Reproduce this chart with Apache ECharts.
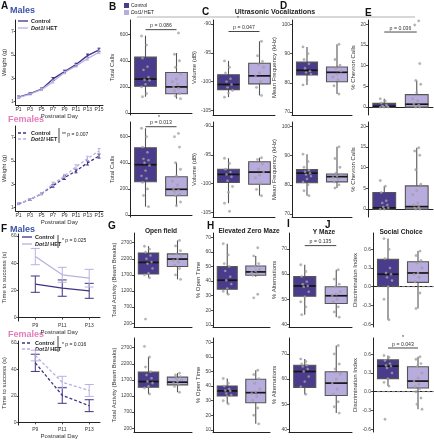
<!DOCTYPE html>
<html><head><meta charset="utf-8">
<script src="https://cdn.jsdelivr.net/npm/echarts@6/dist/echarts.min.js"></script>
<style>html,body{margin:0;padding:0;background:#fff}#c{width:434px;height:440px}</style>
</head><body><div id="c"></div>
<script>
// ---------------- DATA ----------------
const groups = ['Control', 'Dot1l HET'];

const weightDays = [1, 3, 5, 7, 9, 11, 13, 15];
const weightTicks = [1, 3, 5, 7];
const maleWeightControl = [1.37, 1.68, 2.06, 2.94, 3.57, 4.17, 4.94, 5.43];
const maleWeightControlSem = [0.10, 0.08, 0.10, 0.12, 0.12, 0.12, 0.14, 0.15];
const maleWeightHet = [1.33, 1.64, 2.02, 2.71, 3.49, 4.06, 4.68, 5.23];
const maleWeightHetSem = [0.08, 0.08, 0.08, 0.12, 0.10, 0.10, 0.12, 0.12];
const femaleWeightControl = [1.31, 1.68, 2.18, 2.86, 3.56, 4.13, 4.83, 5.42];
const femaleWeightControlSem = [0.06, 0.08, 0.08, 0.12, 0.15, 0.15, 0.18, 0.18];
const femaleWeightHet = [1.33, 1.70, 2.20, 3.03, 3.70, 4.49, 5.20, 5.85];
const femaleWeightHetSem = [0.06, 0.08, 0.08, 0.15, 0.15, 0.18, 0.20, 0.22];

const trainDays = [9, 11, 13];
const timeTicks = [0, 20, 40, 60];
const maleTimeControl = [24.6, 21.7, 19.7];
const maleTimeControlSem = [6, 6, 5.5];
const maleTimeHet = [44.9, 31.5, 29.0];
const maleTimeHetSem = [6, 5.5, 6.5];
const femaleTimeControl = [45.0, 20.4, 12.6];
const femaleTimeControlSem = [6.5, 6, 4.5];
const femaleTimeHet = [50.5, 30.3, 24.1];
const femaleTimeHetSem = [4, 4.5, 4.5];

// box summaries: [min, Q1, median, Q3, max]
const callsMaleBox = [[125, 205, 260, 428, 592], [110, 148, 200, 310, 459]];
const callsMalePts = [[590, 520, 420, 355, 330, 275, 255, 250, 220, 200, 150, 125], [613, 450, 400, 350, 300, 260, 240, 220, 200, 190, 170, 150, 130, 110]];
const callsFemaleBox = [[64, 255, 385, 515, 664], [71, 148, 197, 293, 400]];
const callsFemalePts = [[664, 600, 520, 480, 430, 420, 400, 380, 340, 300, 280, 250, 200, 150, 64], [625, 600, 520, 400, 350, 300, 260, 230, 200, 190, 180, 160, 150, 100, 71]];
const volumeMaleBox = [[-102.7, -101.4, -100.5, -98.8, -96.4], [-102.4, -100.4, -99.0, -96.8, -93.0]];
const volumeMalePts = [[-96.4, -97.5, -98.5, -99.5, -100, -100.5, -101, -101.5, -102, -102.7], [-93, -95.5, -96.5, -97, -97.5, -98.5, -99, -100, -101, -102.4]];
const volumeFemaleBox = [[-103.4, -99.8, -98.4, -97.5, -95.6], [-102.1, -100.1, -98.0, -96.2, -95.5]];
const volumeFemalePts = [[-95.6, -96.5, -97.5, -98, -98.4, -98.8, -99.5, -100.5, -101.5, -103.4, -104.8], [-95.5, -95.8, -96.5, -97.5, -98, -98.5, -99, -100, -101, -102.1]];
const freqMaleBox = [[79.3, 82.7, 84.3, 87.1, 92.3], [76.2, 80.4, 83.6, 85.4, 93.2]];
const freqMalePts = [[92.3, 90, 88, 86.5, 85, 84, 83.5, 83, 81, 79.3], [93.2, 88, 86, 85, 84, 83, 82, 81, 79, 76.2]];
const freqFemaleBox = [[76.3, 80.7, 84.0, 85.2, 90.5], [78.9, 81.0, 82.8, 83.7, 93.0]];
const freqFemalePts = [[90.5, 88, 86, 85, 84.5, 84, 83.5, 83, 82, 81, 80, 78, 76.3], [93, 89, 86, 84, 83.5, 83, 82.5, 82, 81, 80, 78.9]];
const chevronMaleBox = [[0, 0, 0.2, 0.9, 2.0], [0, 0, 0.7, 3.0, 6.4]];
const chevronMalePts = [[2.0, 1.5, 1.0, 0.5, 0.3, 0.2, 0.1, 0, 0, 0], [20.8, 19.8, 10.5, 6.4, 5.5, 3.5, 2.0, 1.5, 0.8, 0.5, 0.3, 0, 0]];
const chevronFemaleBox = [[0, 0, 0.3, 4.0, 5.5], [0, 0, 0.6, 5.6, 14.8]];
const chevronFemalePts = [[6.9, 5.5, 4.0, 2.0, 1.5, 1.0, 0.5, 0.3, 0, 0], [14.8, 14, 13, 9.5, 6, 4.5, 3.5, 1.5, 1, 0.5, 0.3, 0, 0]];

const activityMaleBox = [[1612, 1727, 2086, 2380, 2590], [1560, 1960, 2190, 2350, 2770]];
const activityMalePts = [[2590, 2500, 2400, 2300, 2200, 2100, 2050, 1900, 1750, 1700, 1612, 326], [2770, 2600, 2450, 2350, 2300, 2200, 2150, 2100, 2000, 1900, 1700, 1560]];
const activityFemaleBox = [[1262, 1470, 1647, 1940, 2410], [1315, 1545, 1628, 1785, 1910]];
const activityFemalePts = [[2740, 2410, 2100, 1950, 1850, 1750, 1650, 1600, 1500, 1450, 1262], [1910, 1850, 1800, 1750, 1700, 1650, 1600, 1550, 1500, 1315]];
const openMaleBox = [[31.0, 34.4, 40.6, 49.9, 65.7], [43.0, 44.0, 46.3, 50.4, 57.3]];
const openMalePts = [[65.7, 58, 52, 50, 47, 43, 40.6, 38, 35, 33, 31], [62.9, 57.3, 52, 50, 48, 47, 46, 45, 44, 31, 28.5]];
const openFemaleBox = [[27.9, 33.2, 36.7, 40.1, 45.2], [14.1, 28.6, 35.5, 44.7, 50.9]];
const openFemalePts = [[45.2, 42, 40, 38, 37, 36.7, 35, 34, 33, 30, 27.9], [50.9, 48, 45, 42, 38, 36, 35, 33, 30, 25, 20, 14.1]];
const altMaleBox = [[43.9, 51.2, 55.3, 59.0, 63.7], [42.9, 48.3, 51.4, 55.0, 61.7]];
const altMalePts = [[63.7, 61, 59, 57, 56, 55.3, 55, 53, 51, 49, 47, 43.9], [61.7, 58, 56, 55, 53, 52, 51.4, 50, 49, 47, 45, 42.9]];
const altFemaleBox = [[54.0, 56.7, 63.0, 65.5, 68.0], [46.5, 53.5, 58.4, 62.9, 73.3]];
const altFemalePts = [[68, 67, 66, 65.5, 65, 64, 63, 61, 59, 57, 54], [73.3, 70, 66, 64, 62, 60, 58.4, 56, 54, 51, 49, 46.5]];
const discMaleBox = [[-0.53, 0.01, 0.20, 0.44, 0.77], [-0.35, 0.07, 0.22, 0.40, 0.57]];
const discMalePts = [[0.77, 0.6, 0.45, 0.3, 0.22, 0.2, 0.15, 0.1, 0.0, -0.2, -0.53], [0.57, 0.5, 0.42, 0.38, 0.3, 0.22, 0.2, 0.15, 0.08, -0.1, -0.35]];
const discFemaleBox = [[0.09, 0.21, 0.41, 0.51, 0.58], [-0.28, 0.06, 0.17, 0.40, 0.56]];
const discFemalePts = [[0.58, 0.55, 0.5, 0.45, 0.42, 0.41, 0.38, 0.3, 0.21, 0.15, 0.09, -0.44], [0.56, 0.52, 0.45, 0.4, 0.3, 0.22, 0.17, 0.12, 0.08, 0.05, 0.0, -0.1, -0.2, -0.28]];

const callsTicks = [0, 200, 400, 600];
const volumeTicks = [-105, -100, -95, -90];
const freqTicks = [70, 80, 90, 100];
const chevronTicks = [0, 5, 10, 15, 20];
const activityTicks = [200, 700, 1200, 1700, 2200, 2700];
const openTicks = [10, 20, 30, 40, 50, 60, 70];
const altTicks = [40, 50, 60, 70];
const discTicks = [-0.6, -0.3, 0, 0.3, 0.6];

// ---------------- STYLE ----------------
const FONT = 'Liberation Sans, Arial, Helvetica, sans-serif';
const C_CTRL = '#4b3b8c', C_HET = '#b8acdf';
const L_CTRL = '#3f3287', L_HET = '#b9b1e2';
const AX = '#222';

const option = {animation: false, textStyle: {fontFamily: FONT}, grid: [], xAxis: [], yAxis: [], series: [], graphic: []};

function addGrid(l, t, w, h) {
  option.grid.push({left: l, top: t, width: w, height: h});
  return option.grid.length - 1;
}

const plain = v => String(v);

function yAxisCfg(gi, min, max, ticks, name, gap, fmt) {
  return {gridIndex: gi, type: 'value', min: min, max: max, splitLine: {show: false},
    axisLine: {show: true, lineStyle: {color: AX, width: 1}},
    axisTick: {show: true, length: 2, customValues: ticks, lineStyle: {color: AX, width: 0.8}},
    axisLabel: {customValues: ticks, fontSize: 5, color: '#444', margin: 2, formatter: fmt || plain},
    name: name, nameLocation: 'middle', nameGap: gap, nameTextStyle: {fontSize: 6, color: '#333'}};
}

function jit(i) { return ((i * 5) % 9) - 4; }

function boxPanel(p) {
  const gi = addGrid(p.l, p.t, p.w, p.h);
  option.xAxis.push({gridIndex: gi, type: 'category', data: groups, boundaryGap: true,
    axisLine: {lineStyle: {color: AX, width: 1}}, axisTick: {show: false}, axisLabel: {show: false}});
  option.yAxis.push(yAxisCfg(gi, p.min, p.max, p.ticks, p.name, p.gap, p.fmt));
  if (p.zero) {
    option.series.push({type: 'custom', xAxisIndex: gi, yAxisIndex: gi, data: [[0, 0]], silent: true,
      renderItem: function (params, api) {
        const cs = params.coordSys; const y = api.coord([0, 0])[1];
        return {type: 'line', shape: {x1: cs.x + 4, y1: y, x2: cs.x + cs.width, y2: y}, style: {stroke: '#aaa', lineWidth: 0.8, lineDash: [3, 2]}};
      }});
  }
  option.series.push({type: 'custom', xAxisIndex: gi, yAxisIndex: gi, silent: true,
    data: p.box.map((b, i) => [i].concat(b)), encode: {x: 0, y: [1, 2, 3, 4, 5]},
    renderItem: function (params, api) {
      const xi = api.value(0);
      const mn = api.coord([xi, api.value(1)]), q1 = api.coord([xi, api.value(2)]),
        md = api.coord([xi, api.value(3)]), q3 = api.coord([xi, api.value(4)]), mx = api.coord([xi, api.value(5)]);
      const bw = api.size([1, 0])[0] * 0.7; const cx = md[0];
      return {type: 'group', children: [
        {type: 'line', shape: {x1: cx, y1: mx[1], x2: cx, y2: mn[1]}, style: {stroke: '#555', lineWidth: 1.1}},
        {type: 'rect', shape: {x: cx - bw / 2, y: q3[1], width: bw, height: q1[1] - q3[1]}, style: {fill: xi === 0 ? C_CTRL : C_HET, stroke: '#555', lineWidth: 1.1}},
        {type: 'line', shape: {x1: cx - bw / 2, y1: md[1], x2: cx + bw / 2, y2: md[1]}, style: {stroke: '#151515', lineWidth: 1.7}}
      ]};
    }});
  const pts = [];
  p.pts.forEach((arr, ci) => arr.forEach((v, i) => pts.push({value: [ci, v], symbolOffset: [jit(i + ci * 3), 0]})));
  option.series.push({type: 'scatter', xAxisIndex: gi, yAxisIndex: gi, data: pts, symbolSize: 2.4, silent: true,
    itemStyle: {color: '#a8a8a8', opacity: 0.8, borderColor: '#8a8a8a', borderWidth: 0.3}, z: 5});
  if (p.bracket) {
    const txt = p.bracket.text;
    option.series.push({type: 'custom', xAxisIndex: gi, yAxisIndex: gi, silent: true, data: [[0, p.bracket.y]], z: 6,
      renderItem: function (params, api) {
        const a = api.coord([0, api.value(1)]), b = api.coord([1, api.value(1)]);
        return {type: 'group', children: [
          {type: 'line', shape: {x1: a[0], y1: a[1], x2: b[0], y2: b[1]}, style: {stroke: '#333', lineWidth: 0.9}},
          {type: 'text', style: {text: txt, x: (a[0] + b[0]) / 2, y: a[1] - 1.2, align: 'center', verticalAlign: 'bottom', fontSize: 5.2, fill: '#333', fontFamily: FONT}}
        ]};
      }});
  }
}

function errSeries(gi, xs, ys, es, color, cap) {
  return {type: 'custom', xAxisIndex: gi, yAxisIndex: gi, silent: true, z: 4,
    data: xs.map((x, i) => [x, ys[i], es[i]]),
    renderItem: function (params, api) {
      const x = api.value(0), m = api.value(1), e = api.value(2);
      const lo = api.coord([x, m - e]), hi = api.coord([x, m + e]);
      return {type: 'group', children: [
        {type: 'line', shape: {x1: lo[0], y1: lo[1], x2: hi[0], y2: hi[1]}, style: {stroke: color, lineWidth: 1}},
        {type: 'line', shape: {x1: lo[0] - cap, y1: lo[1], x2: lo[0] + cap, y2: lo[1]}, style: {stroke: color, lineWidth: 1}},
        {type: 'line', shape: {x1: hi[0] - cap, y1: hi[1], x2: hi[0] + cap, y2: hi[1]}, style: {stroke: color, lineWidth: 1}}
      ]};
    }};
}

function linePanel(p) {
  const gi = addGrid(p.l, p.t, p.w, p.h);
  option.xAxis.push({gridIndex: gi, type: 'value', min: p.xmin, max: p.xmax, splitLine: {show: false},
    axisLine: {lineStyle: {color: AX, width: 1}},
    axisTick: {show: true, length: 2, customValues: p.xs, lineStyle: {color: AX, width: 0.8}},
    axisLabel: {customValues: p.xs, fontSize: 5, color: '#333', margin: 2, formatter: v => 'P' + v},
    name: 'Postnatal Day', nameLocation: 'middle', nameGap: 8, nameTextStyle: {fontSize: 6, color: '#333'}});
  option.yAxis.push(yAxisCfg(gi, p.ymin, p.ymax, p.yticks, p.yname, p.gap));
  p.lines.forEach(ln => {
    option.series.push({type: 'line', xAxisIndex: gi, yAxisIndex: gi, symbol: 'none', silent: true,
      data: p.xs.map((x, i) => [x, ln.y[i]]),
      lineStyle: {color: ln.color, width: 1.3, type: p.dashed ? [3, 2] : 'solid'}, z: 3});
    option.series.push(errSeries(gi, p.xs, ln.y, ln.e, ln.color, p.cap));
  });
}

// ---------------- PANELS ----------------
linePanel({l: 13, t: 20, w: 90, h: 85, xmin: 0.5, xmax: 15.7, xs: weightDays, ymin: 0.7, ymax: 8, yticks: weightTicks,
  yname: 'Weight (g)', gap: 6, cap: 1.5, dashed: false,
  lines: [{y: maleWeightControl, e: maleWeightControlSem, color: L_CTRL}, {y: maleWeightHet, e: maleWeightHetSem, color: L_HET}]});
linePanel({l: 13, t: 126, w: 90, h: 85, xmin: 0.5, xmax: 15.7, xs: weightDays, ymin: 0.7, ymax: 8, yticks: weightTicks,
  yname: 'Weight (g)', gap: 6, cap: 1.5, dashed: true,
  lines: [{y: femaleWeightControl, e: femaleWeightControlSem, color: L_CTRL}, {y: femaleWeightHet, e: femaleWeightHetSem, color: L_HET}]});
linePanel({l: 14, t: 234, w: 86, h: 87, xmin: 7.75, xmax: 13.8, xs: trainDays, ymin: -2.5, ymax: 61.5, yticks: timeTicks,
  yname: 'Time to success (s)', gap: 8, cap: 4.5, dashed: false,
  lines: [{y: maleTimeControl, e: maleTimeControlSem, color: L_CTRL}, {y: maleTimeHet, e: maleTimeHetSem, color: L_HET}]});
linePanel({l: 14, t: 341, w: 86, h: 86, xmin: 7.75, xmax: 13.8, xs: trainDays, ymin: -2, ymax: 61.5, yticks: timeTicks,
  yname: 'Time to success (s)', gap: 8, cap: 4.5, dashed: true,
  lines: [{y: femaleTimeControl, e: femaleTimeControlSem, color: L_CTRL}, {y: femaleTimeHet, e: femaleTimeHetSem, color: L_HET}]});

const RT = [20, 122], RH = 95;
boxPanel({l: 130, t: RT[0], w: 62, h: RH, min: -15, max: 712, ticks: callsTicks, name: 'Total Calls', gap: 13, box: callsMaleBox, pts: callsMalePts, bracket: {y: 638, text: 'p = 0.086'}});
boxPanel({l: 130, t: RT[1], w: 62, h: RH, min: -15, max: 712, ticks: callsTicks, name: 'Total Calls', gap: 13, box: callsFemaleBox, pts: callsFemalePts, bracket: {y: 676, text: 'p = 0.013'}});
boxPanel({l: 213, t: RT[0], w: 62, h: RH, min: -105.8, max: -89.3, ticks: volumeTicks, name: 'Volume (dB)', gap: 13, box: volumeMaleBox, pts: volumeMalePts, bracket: {y: -91.3, text: 'p = 0.047'}});
boxPanel({l: 213, t: RT[1], w: 62, h: RH, min: -105.8, max: -89.3, ticks: volumeTicks, name: 'Volume (dB)', gap: 13, box: volumeFemaleBox, pts: volumeFemalePts});
boxPanel({l: 292, t: RT[0], w: 60, h: RH, min: 69, max: 101.5, ticks: freqTicks, name: 'Mean Frequency (kHz)', gap: 11, box: freqMaleBox, pts: freqMalePts});
boxPanel({l: 292, t: RT[1], w: 60, h: RH, min: 69, max: 101.5, ticks: freqTicks, name: 'Mean Frequency (kHz)', gap: 11, box: freqFemaleBox, pts: freqFemalePts});
boxPanel({l: 368, t: RT[0], w: 65, h: RH, min: -1.9, max: 21, ticks: chevronTicks, name: '% Chevron Calls', gap: 9, box: chevronMaleBox, pts: chevronMalePts, bracket: {y: 18.1, text: 'p = 0.036'}});
boxPanel({l: 368, t: RT[1], w: 65, h: RH, min: -1.9, max: 21, ticks: chevronTicks, name: '% Chevron Calls', gap: 9, box: chevronFemaleBox, pts: chevronFemalePts});

const RT2 = [233, 338], RH2 = 94;
const f1 = v => (Math.abs(v) < 1e-9 ? '0.0' : v.toFixed(1));
boxPanel({l: 134, t: RT2[0], w: 58, h: RH2, min: 80, max: 3000, ticks: activityTicks, name: 'Total Activity (Beam Breaks)', gap: 15, box: activityMaleBox, pts: activityMalePts});
boxPanel({l: 134, t: RT2[1], w: 58, h: RH2, min: 80, max: 3000, ticks: activityTicks, name: 'Total Activity (Beam Breaks)', gap: 15, box: activityFemaleBox, pts: activityFemalePts});
boxPanel({l: 213, t: RT2[0], w: 57, h: RH2, min: 8.5, max: 73, ticks: openTicks, name: '% Open Time', gap: 8, box: openMaleBox, pts: openMalePts});
boxPanel({l: 213, t: RT2[1], w: 57, h: RH2, min: 8.5, max: 73, ticks: openTicks, name: '% Open Time', gap: 8, box: openFemaleBox, pts: openFemalePts});
boxPanel({l: 289, t: RT2[0], w: 63, h: RH2, min: 39, max: 76.3, ticks: altTicks, name: '% Alternations', gap: 10, box: altMaleBox, pts: altMalePts, bracket: {y: 71.3, text: 'p = 0.135'}});
boxPanel({l: 289, t: RT2[1], w: 63, h: RH2, min: 39, max: 76.3, ticks: altTicks, name: '% Alternations', gap: 10, box: altFemaleBox, pts: altFemalePts});
boxPanel({l: 373, t: RT2[0], w: 60, h: RH2, min: -0.645, max: 0.86, ticks: discTicks, name: 'Discrimination Index', gap: 12, fmt: f1, zero: true, box: discMaleBox, pts: discMalePts});
boxPanel({l: 373, t: RT2[1], w: 60, h: RH2, min: -0.645, max: 0.86, ticks: discTicks, name: 'Discrimination Index', gap: 12, fmt: f1, zero: true, box: discFemaleBox, pts: discFemalePts, bracket: {y: 0.70, text: 'p = 0.043'}});

// ---------------- ANNOTATIONS ----------------
const G = option.graphic;
function txt(x, y, t, o) {
  G.push({type: 'text', x: x, y: y, silent: true, style: Object.assign({text: t, fontFamily: FONT, fontSize: 5.5, fill: '#222', verticalAlign: 'middle', align: 'left',
    rich: {i: {fontStyle: 'italic', fontSize: (o && o.fontSize) || 5.5, fontWeight: (o && o.fontWeight) || 'normal', fill: (o && o.fill) || '#222', fontFamily: FONT}}}, o || {})});
}
function ln(x1, y1, x2, y2, color, w, dash) {
  G.push({type: 'line', silent: true, shape: {x1: x1, y1: y1, x2: x2, y2: y2}, style: {stroke: color, lineWidth: w || 1, lineDash: dash || null}});
}
const LET = {fontSize: 10, fontWeight: 'bold', fill: '#111'};
txt(1, 6, 'A', LET); txt(1, 229, 'F', LET);
txt(109, 7, 'B', LET); txt(202, 12, 'C', LET); txt(280, 6, 'D', LET); txt(365, 13, 'E', LET);
txt(108, 226, 'G', LET); txt(207, 226, 'H', LET); txt(287, 224, 'I', LET); txt(325, 225, 'J', LET);

const MALE = {fontSize: 9, fontWeight: 'bold', fill: '#3a52a8'};
const FEM = {fontSize: 9, fontWeight: 'bold', fill: '#e47bbb'};
txt(10, 11, 'Males', MALE); txt(8, 120, 'Females', FEM);
txt(10, 230, 'Males', MALE); txt(8, 335, 'Females', FEM);

const LEG = {fontSize: 5.5, fontWeight: 'bold', fill: '#222'};
// A males legend
ln(18, 21, 28, 21, L_CTRL, 1.3); txt(31, 21, 'Control', LEG);
ln(18, 28, 28, 28, L_HET, 1.3); txt(31, 28, '{i|Dot1l} HET', LEG);
// A females legend
ln(18, 133, 28, 133, L_CTRL, 1.3, [3, 2]); txt(31, 133, 'Control', LEG);
ln(18, 139, 28, 139, L_HET, 1.3, [3, 2]); txt(31, 139, '{i|Dot1l} HET', LEG);
ln(59, 128, 59, 143, '#333', 0.9); txt(62, 135, '** p = 0.007', {fontSize: 5});
// F males legend
ln(22, 237, 32, 237, L_CTRL, 1.3); txt(35, 237, 'Control', LEG);
ln(22, 244, 32, 244, L_HET, 1.3); txt(35, 244, '{i|Dot1l} HET', LEG);
ln(58, 235, 58, 248, '#333', 0.9); txt(62, 241, '* p = 0.025', {fontSize: 5});
// F females legend
ln(22, 343, 32, 343, L_CTRL, 1.3, [3, 2]); txt(35, 343, 'Control', LEG);
ln(22, 349, 32, 349, L_HET, 1.3, [3, 2]); txt(35, 349, '{i|Dot1l} HET', LEG);
ln(58, 336, 58, 352, '#333', 0.9); txt(62, 345, '* p = 0.016', {fontSize: 5});

// B legend
G.push({type: 'rect', silent: true, shape: {x: 124, y: 3, width: 5, height: 5}, style: {fill: C_CTRL}});
G.push({type: 'rect', silent: true, shape: {x: 124, y: 10, width: 5, height: 5}, style: {fill: C_HET}});
txt(131, 5.5, 'Control', {fontSize: 5});
txt(131, 12.5, '{i|Dot1l} HET', {fontSize: 5});

// USV header
ln(137, 17, 415, 17, '#b0b0b0', 1);
txt(275, 12, 'Ultrasonic Vocalizations', {fontSize: 7, fontWeight: 'bold', align: 'center', fill: '#222'});
// panel titles
const TT = {fontSize: 6.6, fontWeight: 'bold', align: 'center', fill: '#222'};
txt(161, 231, 'Open field', TT);
txt(249, 231, 'Elevated Zero Maze', TT);
txt(324, 232, 'Y Maze', TT);
txt(401, 232, 'Social Choice', TT);
// asterisks
txt(238, 19, '*', {fontSize: 5, align: 'center'});
txt(159, 118, '*', {fontSize: 5, align: 'center'});
txt(403, 338, '*', {fontSize: 5, align: 'center'});

const chart = echarts.init(document.getElementById('c'), null, {renderer: 'canvas'});
chart.setOption(option);
</script>
</body></html>
